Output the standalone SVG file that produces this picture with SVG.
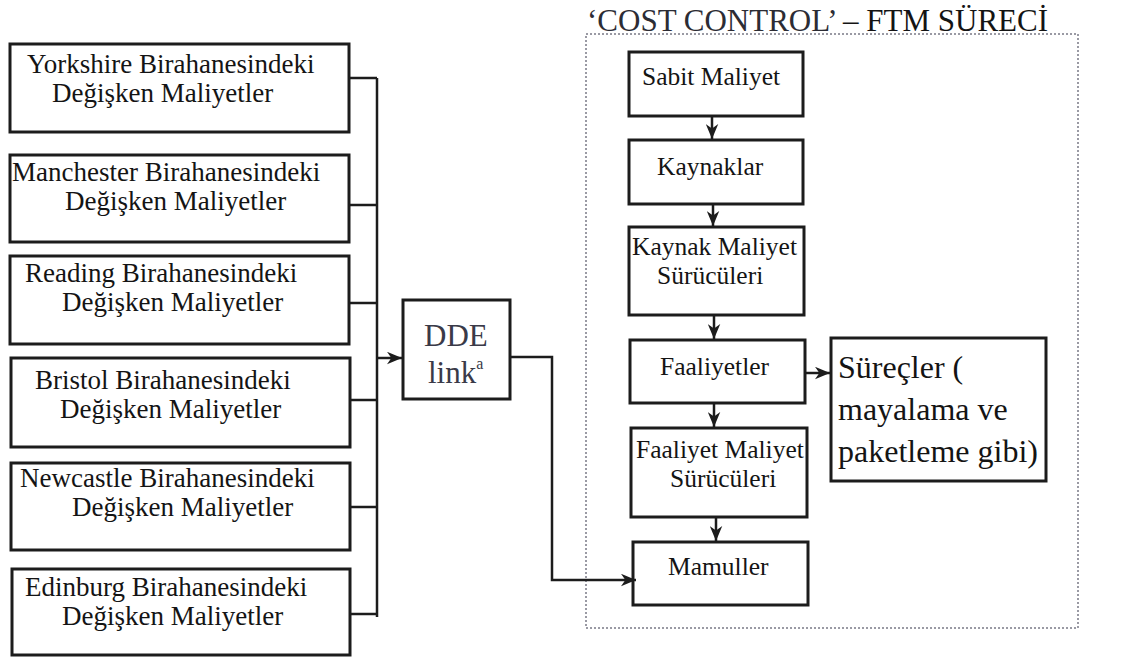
<svg xmlns="http://www.w3.org/2000/svg" width="1127" height="660" viewBox="0 0 1127 660">
  <style>
    .box { fill: #ffffff; stroke: #1c1c1c; stroke-width: 3; }
    .t { font-family: "Liberation Serif", "Times New Roman", serif; fill: #141414; }
    .lt { font-size: 27px; }
    .rt { font-size: 25.5px; }
    .big { font-size: 32px; }
    .dde { font-size: 31px; fill: #3a3a48; }
    .wire { fill: none; stroke: #1c1c1c; stroke-width: 2.5; }
    .frame { fill: none; stroke: #9a9aa4; stroke-width: 2; stroke-dasharray: 2 2; }
  </style>
  <defs>
    <marker id="arrow" viewBox="0 0 12 10" refX="12" refY="5" markerWidth="15" markerHeight="13" markerUnits="userSpaceOnUse" orient="auto">
      <path d="M0,0 L12,5 L0,10 L3.5,5 z" fill="#1c1c1c"/>
    </marker>
  </defs>
  <rect width="1127" height="660" fill="#ffffff"/>

  <!-- title and dotted process frame -->
  <text class="t" x="587" y="31" font-size="31px"><tspan fill="#2c2c34">‘COST CONTROL’</tspan> – FTM SÜRECİ</text>
  <rect class="frame" x="586" y="34" width="492" height="594"/>

  <!-- brewery cost boxes -->
  <g id="yorkshire">
    <rect class="box" x="10" y="44" width="339" height="88"/>
    <text class="t lt" x="27" y="73">Yorkshire Birahanesindeki</text>
    <text class="t lt" x="52" y="102">Değişken Maliyetler</text>
  </g>
  <g id="manchester">
    <rect class="box" x="10" y="155" width="339" height="87"/>
    <text class="t lt" x="12" y="181">Manchester Birahanesindeki</text>
    <text class="t lt" x="65" y="210">Değişken Maliyetler</text>
  </g>
  <g id="reading">
    <rect class="box" x="10" y="256" width="339" height="88"/>
    <text class="t lt" x="25" y="282">Reading Birahanesindeki</text>
    <text class="t lt" x="62" y="311">Değişken Maliyetler</text>
  </g>
  <g id="bristol">
    <rect class="box" x="11" y="358" width="339" height="89"/>
    <text class="t lt" x="35" y="389">Bristol Birahanesindeki</text>
    <text class="t lt" x="60" y="418">Değişken Maliyetler</text>
  </g>
  <g id="newcastle">
    <rect class="box" x="11" y="463" width="339" height="87"/>
    <text class="t lt" x="20" y="487">Newcastle Birahanesindeki</text>
    <text class="t lt" x="72" y="516">Değişken Maliyetler</text>
  </g>
  <g id="edinburg">
    <rect class="box" x="12" y="569" width="338" height="86"/>
    <text class="t lt" x="25" y="596">Edinburg Birahanesindeki</text>
    <text class="t lt" x="62" y="625">Değişken Maliyetler</text>
  </g>

  <!-- DDE link -->
  <g id="dde">
    <rect class="box" x="403" y="300" width="107" height="99"/>
    <text class="t dde" x="424" y="346">DDE</text>
    <text class="t dde" x="428" y="383">link<tspan font-size="16px" dy="-14">a</tspan></text>
  </g>

  <!-- cost control process boxes -->
  <g id="sabit">
    <rect class="box" x="629" y="52" width="174" height="64"/>
    <text class="t rt" x="642" y="85">Sabit Maliyet</text>
  </g>
  <g id="kaynaklar">
    <rect class="box" x="629" y="140" width="174" height="64"/>
    <text class="t rt" x="657" y="175">Kaynaklar</text>
  </g>
  <g id="kaynak-surucu">
    <rect class="box" x="629" y="227" width="175" height="88"/>
    <text class="t rt" x="632" y="255">Kaynak Maliyet</text>
    <text class="t rt" x="657" y="284">Sürücüleri</text>
  </g>
  <g id="faaliyetler">
    <rect class="box" x="630" y="340" width="175" height="63"/>
    <text class="t rt" x="660" y="375">Faaliyetler</text>
  </g>
  <g id="faaliyet-surucu">
    <rect class="box" x="631" y="428" width="176" height="89"/>
    <text class="t rt" x="636" y="458">Faaliyet Maliyet</text>
    <text class="t rt" x="670" y="487">Sürücüleri</text>
  </g>
  <g id="mamuller">
    <rect class="box" x="633" y="542" width="175" height="63"/>
    <text class="t rt" x="668" y="575">Mamuller</text>
  </g>
  <g id="surecler">
    <rect class="box" x="831" y="338" width="215" height="143"/>
    <text class="t big" x="838" y="378">Süreçler (</text>
    <text class="t big" x="838" y="420">mayalama ve</text>
    <text class="t big" x="838" y="462">paketleme gibi)</text>
  </g>

  <!-- connectors -->
  <g id="connectors">
    <path class="wire" d="M349,78 H377 M349,205 H377 M349,303 H377 M350,400 H377 M350,507 H377 M350,614 H377 M377,78 V617"/>
    <path class="wire" d="M377,358 H402" marker-end="url(#arrow)"/>
    <path class="wire" d="M510,357 H552 V580 H636" marker-end="url(#arrow)"/>
    <path class="wire" d="M712,116 V139" marker-end="url(#arrow)"/>
    <path class="wire" d="M713,204 V226" marker-end="url(#arrow)"/>
    <path class="wire" d="M714,315 V339" marker-end="url(#arrow)"/>
    <path class="wire" d="M714,403 V427" marker-end="url(#arrow)"/>
    <path class="wire" d="M716,517 V541" marker-end="url(#arrow)"/>
    <path class="wire" d="M805,373 H830" marker-end="url(#arrow)"/>
  </g>
</svg>
